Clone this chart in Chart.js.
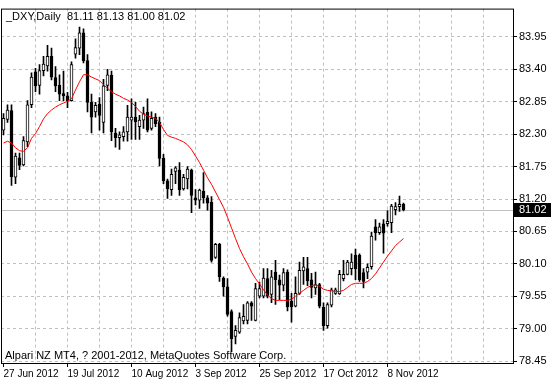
<!DOCTYPE html>
<html>
<head>
<meta charset="utf-8">
<script src="https://cdn.jsdelivr.net/npm/chart.js@4/dist/chart.umd.min.js"></script>
<style>
  html, body { margin: 0; padding: 0; background: #fff; }
</style>
</head>
<body>
<canvas id="chart" width="552" height="380"></canvas>
<script>
// ─── DATA ─────────────────────────────────────────────────────
const symbol = '_DXY,Daily';

// daily bars, 27 Jun 2012 → 14 Nov 2012
const opens = [
  82.37, 82.55, 82.70, 81.57, 81.90, 81.78, 82.17, 82.80, 83.36, 83.13,
  83.38, 83.46, 83.62, 83.26, 83.13, 82.99, 82.95, 82.87, 83.66, 83.76,
  84.02, 83.55, 82.84, 82.68, 82.81, 82.50, 83.13, 83.30, 82.32, 82.24,
  82.26, 82.34, 82.54, 82.59, 82.43, 82.54, 82.67, 82.40, 82.59, 82.50,
  81.89, 81.51, 81.36, 81.67, 81.69, 81.37, 81.54, 81.69, 81.22, 81.18,
  81.33, 81.22, 81.15, 80.21, 80.43, 79.86, 79.71, 79.29, 78.87, 78.94,
  79.13, 79.14, 79.44, 79.14, 79.55, 79.55, 79.85, 79.58, 79.96, 79.83,
  79.74, 79.96, 79.47, 79.38, 79.60, 79.98, 80.02, 79.83, 79.69, 79.75,
  79.36, 79.05, 79.40, 79.60, 79.59, 79.85, 79.92, 80.02, 80.25, 80.25,
  79.95, 79.96, 80.05, 80.73, 80.63, 80.78, 80.78, 80.80, 81.02, 81.07,
  81.11
];
const highs = [
  82.65, 82.80, 82.80, 81.98, 81.98, 82.26, 82.87, 83.34, 83.42, 83.48,
  83.62, 83.81, 83.76, 83.45, 83.31, 83.37, 83.01, 83.53, 83.92, 84.12,
  84.09, 83.65, 82.98, 82.84, 82.92, 83.23, 83.40, 83.37, 82.40, 82.34,
  82.43, 82.79, 82.90, 82.84, 82.62, 82.76, 82.90, 82.68, 82.65, 82.59,
  81.96, 81.54, 81.71, 81.75, 81.82, 81.62, 81.75, 81.71, 81.36, 81.37,
  81.65, 81.26, 81.24, 80.45, 80.45, 79.88, 79.85, 79.32, 79.05, 79.27,
  79.41, 79.46, 79.46, 79.77, 79.79, 80.02, 80.02, 79.99, 80.16, 79.91,
  80.02, 80.00, 79.60, 79.88, 80.13, 80.21, 80.21, 79.94, 79.96, 79.77,
  79.44, 79.44, 79.69, 79.69, 79.99, 80.16, 80.16, 80.27, 80.35, 80.27,
  80.02, 80.10, 80.64, 80.85, 80.79, 80.85, 81.00, 81.11, 81.14, 81.25,
  81.13
];
const lows = [
  82.29, 82.50, 81.43, 81.46, 81.70, 81.76, 82.09, 82.75, 83.02, 82.98,
  83.29, 83.37, 83.22, 83.02, 82.87, 82.87, 82.75, 82.86, 83.59, 83.65,
  83.51, 82.68, 82.32, 82.59, 82.37, 82.32, 83.04, 82.19, 82.08, 82.04,
  82.18, 82.18, 82.21, 82.21, 82.21, 82.40, 82.34, 82.37, 82.43, 81.76,
  81.46, 81.21, 81.26, 81.46, 81.26, 81.35, 81.37, 80.97, 81.10, 81.04,
  81.13, 81.01, 80.13, 80.19, 79.80, 79.55, 79.21, 78.61, 78.74, 78.92,
  79.08, 79.08, 79.14, 79.13, 79.52, 79.52, 79.52, 79.44, 79.41, 79.49,
  79.64, 79.30, 79.11, 79.37, 79.58, 79.75, 79.73, 79.52, 79.58, 79.35,
  78.97, 79.01, 79.37, 79.58, 79.58, 79.81, 79.91, 79.91, 79.83, 79.80,
  79.69, 79.85, 80.01, 80.50, 80.60, 80.28, 80.74, 80.63, 80.93, 80.99,
  81.00
];
const closes = [
  82.57, 82.71, 81.58, 81.93, 81.77, 82.19, 82.80, 83.27, 83.12, 83.38,
  83.49, 83.62, 83.27, 83.12, 82.98, 82.95, 82.87, 83.48, 83.77, 84.02,
  83.55, 82.84, 82.59, 82.79, 82.62, 83.12, 83.31, 82.34, 82.24, 82.29,
  82.34, 82.59, 82.59, 82.51, 82.54, 82.65, 82.37, 82.57, 82.48, 81.89,
  81.51, 81.37, 81.62, 81.73, 81.36, 81.57, 81.71, 81.26, 81.18, 81.35,
  81.22, 81.13, 80.16, 80.43, 79.88, 79.71, 79.24, 78.83, 78.97, 79.19,
  79.21, 79.44, 79.38, 79.68, 79.68, 79.86, 79.55, 79.88, 79.83, 79.74,
  79.95, 79.37, 79.37, 79.60, 79.99, 80.05, 79.81, 79.70, 79.75, 79.38,
  79.05, 79.41, 79.66, 79.66, 79.92, 79.92, 80.13, 80.13, 80.02, 79.83,
  79.80, 80.04, 80.57, 80.63, 80.73, 80.62, 80.82, 81.08, 81.07, 81.11,
  81.02
];
// moving average (red line)
const ma = [
  82.15, 82.18, 82.15, 82.07, 82.02, 82.01, 82.07, 82.23, 82.31, 82.43,
  82.56, 82.65, 82.71, 82.76, 82.80, 82.83, 82.86, 82.90, 83.05, 83.19,
  83.31, 83.31, 83.27, 83.24, 83.21, 83.14, 83.08, 83.02, 82.98, 82.95,
  82.91, 82.88, 82.84, 82.77, 82.69, 82.64, 82.61, 82.59, 82.57, 82.50,
  82.38, 82.28, 82.25, 82.23, 82.20, 82.17, 82.12, 82.04, 81.93, 81.82,
  81.69, 81.56, 81.45, 81.32, 81.19, 81.06, 80.89, 80.71, 80.53, 80.36,
  80.22, 80.10, 79.96, 79.85, 79.76, 79.66, 79.57, 79.51, 79.48, 79.48,
  79.48, 79.48, 79.50, 79.55, 79.60, 79.65, 79.70, 79.73, 79.74, 79.72,
  79.67, 79.65, 79.64, 79.63, 79.63, 79.65, 79.70, 79.75, 79.77, 79.77,
  79.77, 79.80, 79.85, 79.93, 80.03, 80.13, 80.23, 80.32, 80.41, 80.47,
  80.53
];

const xTickLabels = ['27 Jun 2012', '19 Jul 2012', '10 Aug 2012', '3 Sep 2012',
                     '25 Sep 2012', '17 Oct 2012', '8 Nov 2012'];
const yTicks = [78.45, 79.00, 79.55, 80.10, 80.65, 81.20, 81.75, 82.30, 82.85, 83.40, 83.95];

const copyright = 'Alpari NZ MT4, ? 2001-2012, MetaQuotes Software Corp.';

// ─── LAYOUT ───────────────────────────────────────────────────
const BARS_VISIBLE = 128;      // 4px per bar across the plot
const LABEL_EVERY  = 16;
const GRID_EVERY   = 8;
const X_MIN = -0.625;
const X_MAX = X_MIN + BARS_VISIBLE;
const Y_MIN = 78.417;
const Y_MAX = 84.432;

const FAMILY = '"Liberation Sans", Arial, sans-serif';
const FONT   = { family: FAMILY, size: 11 };
const FONT_X = { family: FAMILY, size: 10 };
const GRID   = '#c0c0c0';
const last   = closes.length - 1;

// ─── OVERLAY (frame, captions, last price) ───────────────────
const mt4Overlay = {
  id: 'mt4Overlay',
  beforeDatasetsDraw(chart) {
    const { ctx, chartArea: a, scales: { y } } = chart;
    const py = Math.round(y.getPixelForValue(closes[last])) + 0.5;
    ctx.save();
    ctx.strokeStyle = GRID;
    ctx.lineWidth = 1;
    ctx.beginPath();
    ctx.moveTo(a.left, py);
    ctx.lineTo(a.right, py);
    ctx.stroke();
    ctx.restore();
  },
  afterDraw(chart) {
    const { ctx, chartArea: a, scales: { y } } = chart;
    ctx.save();
    ctx.strokeStyle = '#000';
    ctx.lineWidth = 1;
    ctx.strokeRect(a.left + 0.5, a.top + 0.5, a.width, a.height);

    ctx.font = `${FONT.size}px ${FONT.family}`;
    ctx.fillStyle = '#000';
    ctx.textBaseline = 'top';
    const f = v => v.toFixed(2);
    ctx.fillText(`${symbol}  ${f(opens[last])} ${f(highs[last])} ${f(lows[last])} ${f(closes[last])}`,
                 a.left + 5, a.top + 3);
    ctx.textBaseline = 'alphabetic';
    ctx.fillText(copyright, a.left + 4, a.bottom - 4);

    // last price tag on the axis
    const py = Math.round(y.getPixelForValue(closes[last]));
    ctx.fillRect(a.right + 1, py - 7, 37, 14);
    ctx.fillStyle = '#fff';
    ctx.textBaseline = 'middle';
    ctx.fillText(f(closes[last]), a.right + 6, py);
    ctx.restore();
  }
};

// ─── CHART ────────────────────────────────────────────────────
const ctx = document.getElementById('chart').getContext('2d');
new Chart(ctx, {
  type: 'bar',
  data: {
    datasets: [
      {
        type: 'line',
        label: 'MA',
        data: ma.map((v, i) => ({ x: i, y: v })),
        borderColor: '#ff0000',
        borderWidth: 1,
        pointRadius: 0,
        tension: 0,
        order: 0
      },
      {
        label: 'body',
        data: opens.map((o, i) => ({ x: i, y: [o, closes[i]] })),
        backgroundColor: opens.map((o, i) => closes[i] >= o ? '#fff' : '#000'),
        borderColor: '#000',
        borderWidth: 1,
        borderSkipped: false,
        barThickness: 3,
        minBarLength: 1,
        grouped: false,
        order: 1
      },
      {
        label: 'wick',
        data: highs.map((h, i) => ({ x: i, y: [lows[i], h] })),
        backgroundColor: '#000',
        barThickness: 1,
        grouped: false,
        order: 2
      }
    ]
  },
  options: {
    responsive: false,
    animation: false,
    events: [],
    layout: { padding: { left: 1, top: 1, right: 0, bottom: 0 } },
    plugins: { legend: { display: false }, tooltip: { enabled: false } },
    scales: {
      x: {
        type: 'linear',
        min: X_MIN,
        max: X_MAX,
        offset: false,
        afterBuildTicks: s => {
          s.ticks = [];
          for (let v = 0; v < X_MAX; v += GRID_EVERY) s.ticks.push({ value: v });
        },
        afterFit: s => { s.height = 17; },
        ticks: {
          autoSkip: false,
          maxRotation: 0,
          align: 'start',
          padding: 1,
          color: '#000',
          font: FONT_X,
          callback: v => (v % LABEL_EVERY === 0 && xTickLabels[v / LABEL_EVERY]) || ''
        },
        grid: {
          offset: false,
          color: c => (c.tick && c.tick.value === 0) ? 'rgba(0,0,0,0)' : GRID,
          tickColor: c => (c.tick && c.tick.value % LABEL_EVERY === 0 && xTickLabels[c.tick.value / LABEL_EVERY])
                          ? '#000' : 'rgba(0,0,0,0)',
          tickLength: 4
        },
        border: { display: false, dash: [3, 3] }
      },
      y: {
        type: 'linear',
        position: 'right',
        min: Y_MIN,
        max: Y_MAX,
        afterBuildTicks: s => { s.ticks = yTicks.map(v => ({ value: v })); },
        afterFit: s => { s.width = 39; },
        ticks: {
          color: '#000',
          font: FONT,
          padding: 2,
          callback: v => v.toFixed(2)
        },
        grid: { color: GRID, tickColor: '#000', tickLength: 4 },
        border: { display: false, dash: [3, 3] }
      }
    }
  },
  plugins: [mt4Overlay]
});
</script>
</body>
</html>
